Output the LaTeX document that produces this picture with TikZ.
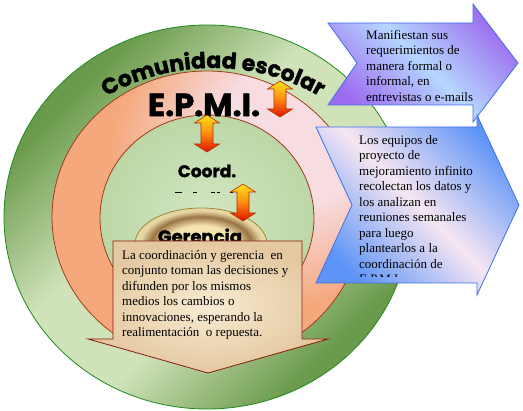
\documentclass[tikz,border=0pt]{standalone}
\usepackage{fontspec}
\setmainfont{Liberation Serif}
\newfontfamily\heavy{Poppins}[BoldFeatures={FakeBold=1.6}]
\usetikzlibrary{decorations.text,shadings}

\definecolor{gdark}{HTML}{6A9B4C}
\definecolor{glight}{HTML}{CFE2B8}
\definecolor{ringgreen}{HTML}{1E8A1E}
\definecolor{salmon}{HTML}{F5A87C}
\definecolor{pinkl}{HTML}{F7DDE2}
\definecolor{ringred}{HTML}{A03A1A}
\definecolor{innerA}{HTML}{D3E6C3}
\definecolor{innerB}{HTML}{BCD7A6}
\definecolor{gcream}{HTML}{F4E4B0}
\definecolor{gbrown}{HTML}{9A7444}
\definecolor{gtan}{HTML}{E6D6A2}
\definecolor{golive}{HTML}{9A8A3A}
\definecolor{ayellow}{HTML}{FFE21A}
\definecolor{aorange}{HTML}{FF8A10}
\definecolor{ared}{HTML}{E01000}
\definecolor{aline}{HTML}{B03000}
\definecolor{cream}{HTML}{F8EBD2}
\definecolor{tan}{HTML}{E4C8A0}
\definecolor{cline}{HTML}{8A1A10}
\definecolor{purp}{HTML}{9C6CF0}
\definecolor{lblue}{HTML}{B6D6FF}
\definecolor{bblue}{HTML}{5E94F7}
\definecolor{pinkw}{HTML}{F6E6F2}
\definecolor{bline}{HTML}{3F6FEA}

\pgfdeclareverticalshading{outerg}{100bp}{color(0bp)=(gdark); color(27bp)=(gdark); color(43bp)=(glight); color(57bp)=(glight); color(73bp)=(gdark); color(100bp)=(gdark)}
\pgfdeclareradialshading{salmring}{\pgfpoint{18bp}{18bp}}{color(0bp)=(pinkl); color(12bp)=(pinkl); color(26bp)=(salmon); color(60bp)=(salmon)}
\pgfdeclareradialshading{gerbevel}{\pgfpoint{0bp}{0bp}}{color(0bp)=(gcream); color(13bp)=(gcream); color(19bp)=(gbrown); color(23bp)=(gtan); color(25bp)=(gtan); color(50bp)=(gtan)}

\newcommand\dblarrow[3]{%
  \path[draw=aline, line width=0.6pt, top color=ayellow, bottom color=ared, middle color=aorange]
  (#1,#2) -- (#1+12.5,#2+8) -- (#1+6,#2+8) -- (#1+6,#3-8) -- (#1+12.5,#3-8) -- (#1,#3)
  -- (#1-12.5,#3-8) -- (#1-6,#3-8) -- (#1-6,#2+8) -- (#1-12.5,#2+8) -- cycle;}

\tikzset{
  bodytext/.style={anchor=north west, align=left, inner sep=0pt, font=\fontsize{13}{15.5}\selectfont},
  roundlabel/.style={inner sep=0pt, font=\heavy\bfseries\fontsize{#1}{#1}\selectfont}
}

\begin{document}
\begin{tikzpicture}[x=1pt,y=-1pt]
\useasboundingbox (0,0) rectangle (523,411);
\fill[white] (0,0) rectangle (523,411);

% rings
\path[draw=ringgreen, line width=0.8pt, shading=outerg, shading angle=45]
  (207,217) ellipse [x radius=203, y radius=192];
\path[draw=ringred, line width=0.8pt, shading=salmring]
  (207,217) ellipse [x radius=155, y radius=146];
\path[draw=ringred, line width=0.8pt, inner color=innerA, outer color=innerB]
  (207,218) ellipse [x radius=107, y radius=103];
\path[draw=golive, line width=0.8pt, shading=gerbevel]
  (201,244) ellipse [x radius=66, y radius=36];

% curved title
\path[decorate, decoration={text along path, text align=center,
  text={|\heavy\bfseries\fontsize{22}{22}\selectfont|Comunidad escolar}}]
  (213,283) ++(-140:215) arc[start angle=-140, end angle=-40, radius=215];

\node[roundlabel=32] (epmi) at (204,105) {E.P.M.I.};
\node[roundlabel=17] (coord) at (207,171) {Coord.};
\node[roundlabel=18, anchor=base] (ger) at (200,243) {Gerencia};

% dashes under Coord.
\draw[line width=1pt] (175,193) -- (182,193) (193,193) -- (197,193) (211,193) -- (215,193) (217,193) -- (220,193) (230,193) -- (233,193);

% double arrows
\dblarrow{280}{81}{117}
\dblarrow{207}{115}{152}
\dblarrow{243}{184}{221}

% bottom callout
\path[draw=cline, line width=0.8pt, inner color=cream, outer color=tan]
  (113,241) -- (302,241) -- (302,339) -- (328,339) -- (208,373) -- (88,339) -- (113,339) -- cycle;
\node[bodytext] (ctext) at (122,250) {La coordinación y gerencia\ \ en\\conjunto toman las decisiones y\\difunden por los mismos\\medios los cambios o\\innovaciones, esperando la\\realimentación\ \ o repuesta.};

% top right arrow
\path[draw=bline, line width=0.8pt, top color=purp, bottom color=purp, middle color=lblue, shading angle=-45]
  (328,23) -- (473,23) -- (473,4) -- (518,63) -- (473,122) -- (473,105) -- (328,105) -- (357,63) -- cycle;
\node[bodytext] (ttext) at (366,30) {Manifiestan sus\\requerimientos de\\manera formal o\\informal, en\\entrevistas o e-mails};

% second right arrow
\path[draw=bline, line width=0.8pt, top color=bblue, bottom color=bblue, middle color=pinkw, shading angle=-45]
  (316,127) -- (477,127) -- (477,115) -- (519,205) -- (477,295) -- (477,283) -- (316,283) -- (352,205) -- cycle;
\begin{scope}
\clip (316,127) rectangle (477,277);
\node[bodytext] (stext) at (359,135) {Los equipos de\\proyecto de\\mejoramiento infinito\\recolectan los datos y\\los analizan en\\reuniones semanales\\para luego\\plantearlos a la\\coordinación de\\E.P.M.I.};
\end{scope}
\end{tikzpicture}
\end{document}
